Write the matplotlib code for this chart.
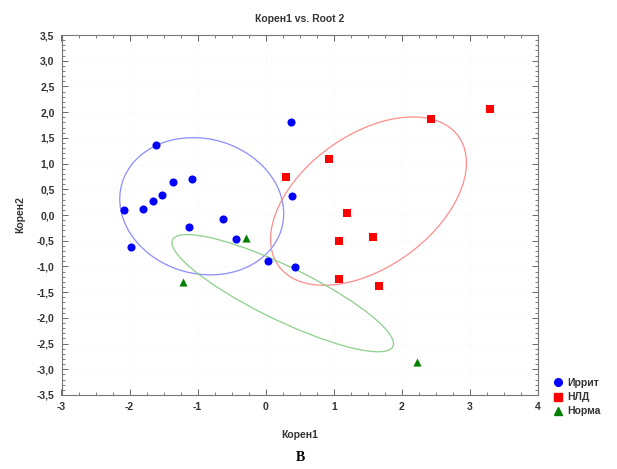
"""
Корен1 vs. Root 2 : nuage des trois groupes avec leurs ellipses.
Produit : out.png
"""

import numpy as np
import matplotlib.pyplot as plt
from matplotlib.patches import Ellipse
from matplotlib.ticker import MultipleLocator, FuncFormatter
from matplotlib.lines import Line2D

plt.rcParams.update({
    "font.family": ["Liberation Sans", "DejaVu Sans"],
    "font.size": 7.5,
    "font.weight": "bold",
    "axes.titleweight": "bold",
    "axes.labelweight": "bold",
    "axes.unicode_minus": False,
})

# Иррит
irrit_x = [-1.61, 0.37, -1.09, -1.36, -1.53, -1.65, -1.81, -2.08, 0.38, -0.63, -1.13, -1.98, -0.44, 0.04, 0.43]
irrit_y = [1.37, 1.81, 0.70, 0.64, 0.38, 0.28, 0.11, 0.10, 0.36, -0.07, -0.24, -0.63, -0.47, -0.89, -1.02]
# НЛД
nld_x = [2.43, 3.30, 0.93, 0.30, 1.19, 1.57, 1.07, 1.07, 1.66]
nld_y = [1.87, 2.06, 1.09, 0.73, 0.03, -0.42, -0.51, -1.24, -1.38]
# Норма
norma_x = [-0.29, -1.21, 2.22]
norma_y = [-0.45, -1.30, -2.86]

# ellipses : centre + "covariance" (sxx, syy, sxy)
ell_cx = [-0.94, 1.51, 0.25]
ell_cy = [0.17, 0.27, -1.52]
ell_sxx = [1.45, 2.07, 2.65]
ell_syy = [1.78, 2.68, 1.30]
ell_sxy = [-0.17, 1.07, -1.60]

groupes = ["Иррит", "НЛД", "Норма"]
couleurs = ["#0000ff", "#ff0000", "#008000"]
couleurs_ell = ["#8c8cff", "#ff8c8c", "#8cd08c"]
marqueurs = ["o", "s", "^"]

fig = plt.figure(figsize=(6.17, 4.69), dpi=100)
ax = fig.add_axes([61.5 / 617, 1 - 395 / 469, (538 - 61.5) / 617, 360 / 469])

xs = [irrit_x, nld_x, norma_x]
ys = [irrit_y, nld_y, norma_y]
tailles = [34, 30, 34]
for x, y, c, m, s in zip(xs, ys, couleurs, marqueurs, tailles):
    ax.scatter(x, y, c=c, marker=m, s=s, linewidths=0, zorder=3)

for i in range(3):
    cov = np.array([[ell_sxx[i], ell_sxy[i]], [ell_sxy[i], ell_syy[i]]])
    vals, vecs = np.linalg.eigh(cov)
    angle = np.degrees(np.arctan2(vecs[1, 1], vecs[0, 1]))
    e = Ellipse((ell_cx[i], ell_cy[i]), 2 * np.sqrt(vals[1]), 2 * np.sqrt(vals[0]),
                angle=angle, fill=False, edgecolor=couleurs_ell[i], linewidth=0.9, zorder=2)
    ax.add_patch(e)

ax.set_xlim(-3, 4)
ax.set_ylim(-3.5, 3.5)
ax.xaxis.set_major_locator(MultipleLocator(1))
ax.xaxis.set_minor_locator(MultipleLocator(0.25))
ax.yaxis.set_major_locator(MultipleLocator(0.5))
ax.yaxis.set_minor_locator(MultipleLocator(0.1))
ax.yaxis.set_major_formatter(FuncFormatter(lambda v, p: f"{v:.1f}".replace(".", ",")))
ax.tick_params(which="both", direction="in", top=True, right=True, colors="#666666",
               labelcolor="#333333")
ax.tick_params(which="major", length=4, width=0.7, pad=5)
ax.tick_params(which="minor", length=2, width=0.6)
for sp in ax.spines.values():
    sp.set_color("#777777")
    sp.set_linewidth(0.8)
ax.grid(True, which="major", color="#ececec", linestyle=(0, (1, 4)), linewidth=0.6)
ax.set_axisbelow(True)

ax.set_title("Корен1 vs. Root 2", fontsize=7.5, pad=9, color="#333333")
ax.set_xlabel("Корен1", labelpad=13, color="#333333")
ax.set_ylabel("Корен2", labelpad=8, color="#333333")

poignees = [Line2D([], [], linestyle="none", marker=m, color=c, markersize=5.5)
            for m, c in zip(marqueurs, couleurs)]
fig.legend(poignees, groupes, loc="upper left", bbox_to_anchor=(0.888, 0.205),
           frameon=False, handletextpad=0.4, labelspacing=0.4, handlelength=1.0,
           borderpad=0, fontsize=7.5, labelcolor="#333333")

fig.text(300 / 617, 1 - 457 / 469, "В", ha="center", va="center",
         family="Liberation Serif", fontsize=10, fontweight="bold")

fig.savefig("out.png", dpi=100)
